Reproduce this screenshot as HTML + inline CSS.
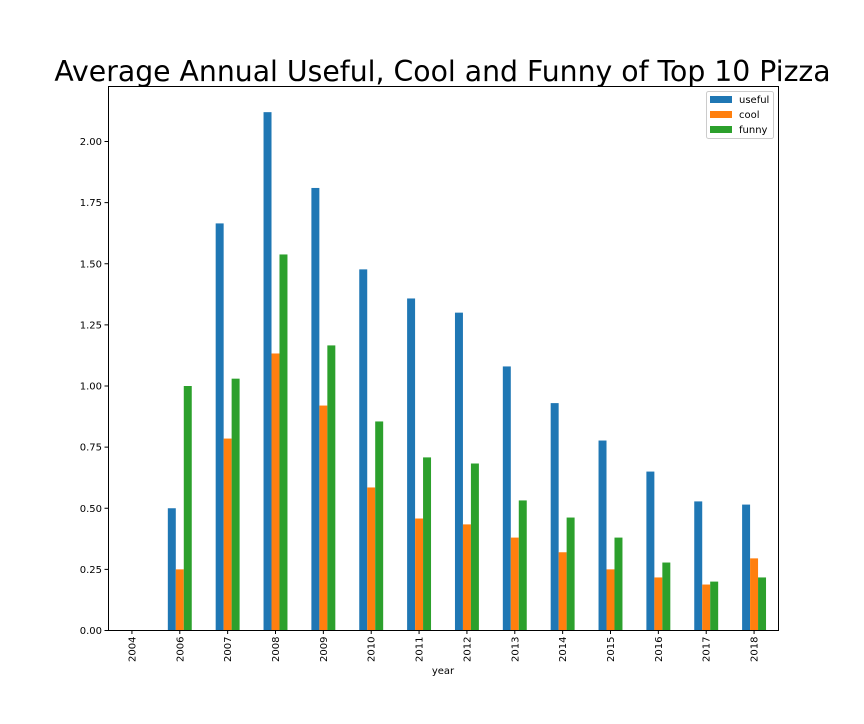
<!DOCTYPE html>
<html><head><meta charset="utf-8"><style>
body{margin:0;background:#fff;font-family:"DejaVu Sans","Liberation Sans",sans-serif;}
svg text{font-family:"DejaVu Sans","Liberation Sans",sans-serif;}
</style></head><body>
<svg id="chart" width="864" height="720" xmlns="http://www.w3.org/2000/svg">
<rect width="864" height="720" fill="#fff"/>
<text x="442.5" y="81" font-size="28.3" text-anchor="middle">Average Annual Useful, Cool and Funny of Top 10 Pizza</text>
<g id="bars"></g>
<g id="axes"></g>
<rect x="108.5" y="86.5" width="670" height="544" fill="none" stroke="#000" stroke-width="1"/>
<g>
<rect x="706.5" y="91.5" width="67" height="47" rx="2" fill="#fff" stroke="#ccc"/>
<rect x="710" y="96" width="22" height="7" fill="#1f77b4"/>
<text x="739" y="103" font-size="10">useful</text>
<rect x="710" y="111" width="22" height="7" fill="#ff7f0e"/>
<text x="739" y="118" font-size="10">cool</text>
<rect x="710" y="126" width="22" height="7" fill="#2ca02c"/>
<text x="739" y="133" font-size="10">funny</text>
</g>
<text x="443" y="674" font-size="10" text-anchor="middle">year</text>
</svg>
<script>
const categories=["2004","2006","2007","2008","2009","2010","2011","2012","2013","2014","2015","2016","2017","2018"];
const useful=[0,0.50,1.665,2.12,1.81,1.477,1.358,1.30,1.08,0.93,0.777,0.65,0.528,0.515];
const cool=[0,0.25,0.785,1.133,0.92,0.585,0.458,0.434,0.38,0.32,0.25,0.217,0.188,0.295];
const funny=[0,1.0,1.03,1.538,1.166,0.855,0.708,0.683,0.532,0.462,0.38,0.278,0.2,0.217];
const yTicks=[0,0.25,0.5,0.75,1.0,1.25,1.5,1.75,2.0];
const yTickLabels=["0.00","0.25","0.50","0.75","1.00","1.25","1.50","1.75","2.00"];
const NS="http://www.w3.org/2000/svg";
const L=108,R=778,T=86.5,B=630.5;
const step=(R-L)/categories.length;
const xc=i=>L+step*(i+0.5);
const y=v=>B-v*244.5;
const bw=step*0.5/3;
const bars=document.getElementById('bars'),axes=document.getElementById('axes');
function mk(tag,attrs,parent){const e=document.createElementNS(NS,tag);for(const k in attrs)e.setAttribute(k,attrs[k]);parent.appendChild(e);return e;}
const series=[["useful",useful,"#1f77b4"],["cool",cool,"#ff7f0e"],["funny",funny,"#2ca02c"]];
series.forEach((s,si)=>{s[1].forEach((v,i)=>{
 const r=mk('rect',{x:xc(i)-1.5*bw+si*bw,y:y(v),width:bw,height:B-y(v),fill:s[2]},bars);
 
 
});});
yTicks.forEach((v,i)=>{
 const l=mk('line',{x1:L-3.5,x2:L,y1:y(v),y2:y(v),stroke:'#000'},axes);
 
 
 const t=mk('text',{x:L-6,y:y(v)+3.5,'font-size':10,'text-anchor':'end'},axes);
 t.textContent=yTickLabels[i];
 
 
});
categories.forEach((c,i)=>{
 const l=mk('line',{x1:xc(i),x2:xc(i),y1:B,y2:B+3.5,stroke:'#000'},axes);
 
 
 const t=mk('text',{x:0,y:0,'font-size':10,'text-anchor':'end',transform:`translate(${xc(i)+3.5},${B+6}) rotate(-90)`},axes);
 t.textContent=c;
 
 
});
</script>
</body></html>
